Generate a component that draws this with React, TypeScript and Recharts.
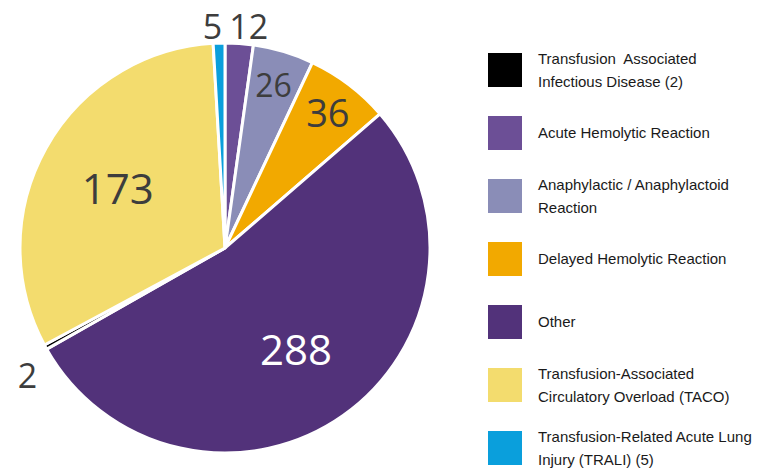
import React from "react";
import { PieChart, Pie, Cell, Legend } from "recharts";

// slice order, clockwise from 12 o'clock
const categories = [
    "Acute Hemolytic Reaction",
    "Anaphylactic / Anaphylactoid Reaction",
    "Delayed Hemolytic Reaction",
    "Other",
    "Transfusion Associated Infectious Disease",
    "Transfusion-Associated Circulatory Overload (TACO)",
    "Transfusion-Related Acute Lung Injury (TRALI)",
];
const counts = [12, 26, 36, 288, 2, 173, 5];
const colors = ["#6c4f96", "#8a8db7", "#f2a900", "#52327a", "#000000", "#f3dc6e", "#0a9fdc"];

// legend order and text (indexes into categories)
const legendOrder = [4, 0, 1, 2, 3, 5, 6];
const legendLabels = [
    "Transfusion  Associated\nInfectious Disease (2)",
    "Acute Hemolytic Reaction",
    "Anaphylactic / Anaphylactoid\nReaction",
    "Delayed Hemolytic Reaction",
    "Other",
    "Transfusion-Associated\nCirculatory Overload (TACO)",
    "Transfusion-Related Acute Lung\nInjury (TRALI) (5)",
];

const data = categories.map((name, i) => ({ name, value: counts[i] }));

const RADIAN = Math.PI / 180;

const renderLabel = (props: any) => {
    const { cx, cy, midAngle, outerRadius, value, name } = props;
    const outside = value < 20;
    const factor = value >= 100 ? 0.6 : !outside ? 0.83 : 1.1;
    const size = value >= 100 ? 42 : value >= 30 ? 38 : value >= 20 ? 32 : 34;
    const r = outerRadius * factor;
    let x = cx + r * Math.cos(-midAngle * RADIAN);
    let y = cy + r * Math.sin(-midAngle * RADIAN);
    if (outside) {
        // keep the two labels near 12 o'clock apart, drop the lower ones a bit
        if (Math.abs(x - cx) < 30) x += x < cx ? -6 : 8;
        y += y > cy ? 18 : 3;
    }
    return (
        <text
            x={x}
            y={y}
            fill={name === "Other" ? "#ffffff" : "#3d3d3d"}
            textAnchor="middle"
            dominantBaseline="central"
            fontFamily="'Open Sans', sans-serif"
            fontSize={size}
        >
            {value}
        </text>
    );
};

const renderLegend = () => (
    <div style={{ fontFamily: "'Liberation Sans', Arial, sans-serif", fontSize: 15, color: "#1a1a1a" }}>
        {legendOrder.map((idx, i) => (
            <div key={idx} style={{ display: "flex", alignItems: "center", height: 63 }}>
                <div style={{ width: 34, height: 34, background: colors[idx], flexShrink: 0 }} />
                <div style={{ marginLeft: 16, whiteSpace: "pre", lineHeight: "23px" }}>{legendLabels[i]}</div>
            </div>
        ))}
    </div>
);

const App: React.FC = () => {
    return (
        <div style={{ position: "absolute", left: 0, top: 0, width: 769, height: 470, background: "#ffffff" }}>
            <PieChart width={769} height={470} margin={{ top: 0, right: 0, bottom: 0, left: 0 }}>
                <Pie
                    data={data}
                    dataKey="value"
                    nameKey="name"
                    cx={225}
                    cy={248}
                    outerRadius={205}
                    startAngle={90}
                    endAngle={-270}
                    stroke="#ffffff"
                    strokeWidth={3}
                    label={renderLabel}
                    labelLine={false}
                    isAnimationActive={false}
                >
                    {data.map((d, i) => (
                        <Cell key={d.name} fill={colors[i]} />
                    ))}
                </Pie>
                <Legend
                    content={renderLegend}
                    wrapperStyle={{ position: "absolute", left: 488, top: 38, width: 281 }}
                />
            </PieChart>
        </div>
    );
};

export default App;
